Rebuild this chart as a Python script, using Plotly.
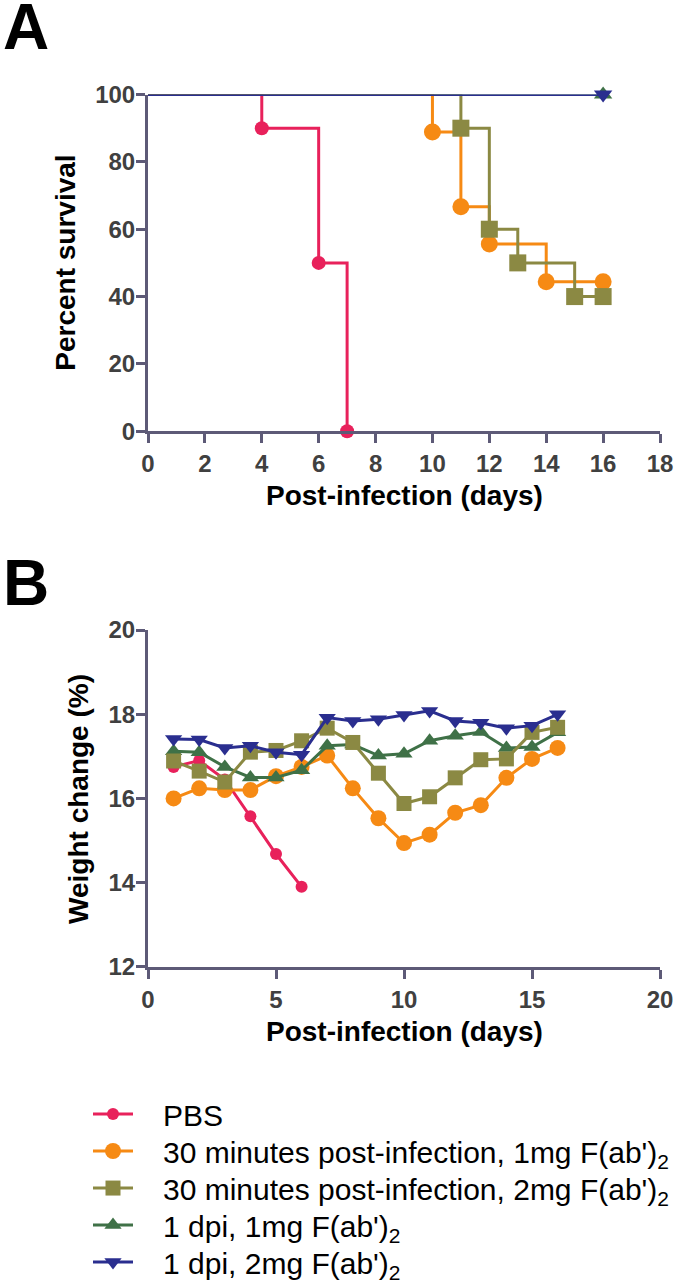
import plotly.graph_objects as go

W, H = 675, 1288

# ---------------- data ----------------
series_names = [
    "PBS",
    "30 minutes post-infection, 1mg F(ab')<sub>2</sub>",
    "30 minutes post-infection, 2mg F(ab')<sub>2</sub>",
    "1 dpi, 1mg F(ab')<sub>2</sub>",
    "1 dpi, 2mg F(ab')<sub>2</sub>",
]
colors = ["#E8215B", "#F68A14", "#8B8943", "#3F7147", "#2A2E8F"]
symbols = ["circle", "circle", "square", "triangle-up", "triangle-down"]

# Panel A: Kaplan-Meier survival (day, percent) — first point is the start of the curve
surv_pbs_x = [0, 4, 6, 7]
surv_pbs_y = [100, 90, 50, 0]
surv_30m1_x = [0, 10, 11, 12, 14, 16]
surv_30m1_y = [100, 88.9, 66.7, 55.6, 44.4, 44.4]
surv_30m2_x = [0, 11, 12, 13, 15, 16]
surv_30m2_y = [100, 90, 60, 50, 40, 40]
surv_1d1_x = [0, 16]
surv_1d1_y = [100, 100]
surv_1d2_x = [0, 16]
surv_1d2_y = [100, 100]

# Panel B: weight (%) by day
days_pbs = [1, 2, 3, 4, 5, 6]
w_pbs = [16.75, 16.9, 16.45, 15.58, 14.68, 13.9]
days = list(range(1, 17))
w_30m1 = [16.0, 16.24, 16.2, 16.2, 16.53, 16.75, 17.02, 16.24, 15.53, 14.94,
          15.14, 15.66, 15.84, 16.49, 16.94, 17.2]
w_30m2 = [16.89, 16.65, 16.39, 17.1, 17.14, 17.37, 17.67, 17.33, 16.6, 15.88,
          16.04, 16.49, 16.92, 16.94, 17.57, 17.69]
w_1d1 = [17.12, 17.1, 16.75, 16.5, 16.5, 16.67, 17.25, 17.28, 17.02, 17.06,
         17.37, 17.49, 17.58, 17.2, 17.22, 17.57]
w_1d2 = [17.41, 17.4, 17.2, 17.25, 17.1, 17.04, 17.92, 17.84, 17.88, 17.98,
         18.08, 17.84, 17.8, 17.67, 17.73, 18.0]

surv_x = [surv_pbs_x, surv_30m1_x, surv_30m2_x, surv_1d1_x, surv_1d2_x]
surv_y = [surv_pbs_y, surv_30m1_y, surv_30m2_y, surv_1d1_y, surv_1d2_y]
wx = [days_pbs, days, days, days, days]
wy = [w_pbs, w_30m1, w_30m2, w_1d1, w_1d2]

# ---------------- style ----------------
axis_color = "#5D5A77"
tick_font = dict(family="Liberation Sans, Arial, sans-serif", size=24, color="#404040", weight="bold")
title_font = dict(family="Liberation Sans, Arial, sans-serif", size=28, color="#000000", weight="bold")
size_A = [14, 17, 17, 16, 16]
size_B = [12, 16, 15, 15, 15]

fig = go.Figure()

# Panel A traces
for i in range(5):
    sizes = [0] + [size_A[i]] * (len(surv_x[i]) - 1)
    fig.add_trace(go.Scatter(
        x=surv_x[i], y=surv_y[i], mode="lines+markers",
        line=dict(color=colors[i], width=3, shape="hv"),
        marker=dict(color=colors[i], size=sizes, symbol=symbols[i], opacity=1,
                    line=dict(width=0)),
        showlegend=False, cliponaxis=False, xaxis="x", yaxis="y",
    ))

# Panel B traces (drawing order: PBS, 30m1, 1d1, 30m2, 1d2)
draw_order = [0, 1, 3, 2, 4]
for i in draw_order:
    fig.add_trace(go.Scatter(
        x=wx[i], y=wy[i], mode="lines+markers",
        name="\u00a0\u00a0\u00a0" + series_names[i],
        line=dict(color=colors[i], width=3),
        marker=dict(color=colors[i], size=size_B[i], symbol=symbols[i], opacity=1,
                    line=dict(width=0)),
        cliponaxis=False, xaxis="x2", yaxis="y2",
        legend="legend" if i == 0 else "legend%d" % (i + 1),
    ))

xdom = [148 / W, 660 / W]
ydomA = [1 - 436.7 / H, 1 - 95.7 / H]
ydomB = [1 - 979 / H, 1 - 638 / H]

common = dict(showline=True, linecolor=axis_color, linewidth=3, ticks="outside",
              ticklen=9, tickwidth=2.5, tickcolor=axis_color, showgrid=False,
              zeroline=False, tickfont=tick_font, automargin=False)

legend_y = [1128, 1165.5, 1203, 1240.5, 1278]
legend_font = dict(family="Liberation Sans, Arial, sans-serif", size=30, color="#000000")
legends = {}
for k in range(5):
    key = "legend" if k == 0 else "legend%d" % (k + 1)
    legends[key] = dict(x=88 / W, xanchor="left", y=1 - legend_y[k] / H, yanchor="middle",
                        font=legend_font, bgcolor="rgba(0,0,0,0)", borderwidth=0,
                        itemwidth=40)

fig.update_layout(
    width=W, height=H, margin=dict(l=0, r=0, t=0, b=0),
    paper_bgcolor="white", plot_bgcolor="white",
    xaxis=dict(domain=xdom, range=[0, 18], dtick=2, tick0=0, anchor="y", ticklabelstandoff=0, **common),
    yaxis=dict(domain=ydomA, range=[0, 100], dtick=20, tick0=0, anchor="x", ticklabelstandoff=-4, **common),
    xaxis2=dict(domain=xdom, range=[0, 20], dtick=5, tick0=0, anchor="y2", ticklabelstandoff=0, **common),
    yaxis2=dict(domain=ydomB, range=[12, 20], dtick=2, tick0=12, anchor="x2", ticklabelstandoff=-4, **common),
    **legends,
)

def ann(text, x, y, size_font, xanchor="center", yanchor="middle", angle=0):
    fig.add_annotation(text=text, x=x / W, y=1 - y / H, xref="paper", yref="paper",
                       showarrow=False, xanchor=xanchor, yanchor=yanchor, textangle=angle,
                       font=size_font)

letter_font = dict(family="Liberation Sans, Arial, sans-serif", size=64, color="#000000", weight="bold")
ann("A", 1, 27, letter_font, xanchor="left")
ann("B", 1, 590, letter_font, xanchor="left")
ann("Percent survival", 66, 266, title_font, angle=-90)
ann("Post-infection (days)", 404, 502, title_font)
ann("Weight change (%)", 79, 809, title_font, angle=-90)
ann("Post-infection (days)", 404, 1044, title_font)

fig.write_html("out.html", config={"displayModeBar": False},
               post_script="document.body.style.margin='0';")
